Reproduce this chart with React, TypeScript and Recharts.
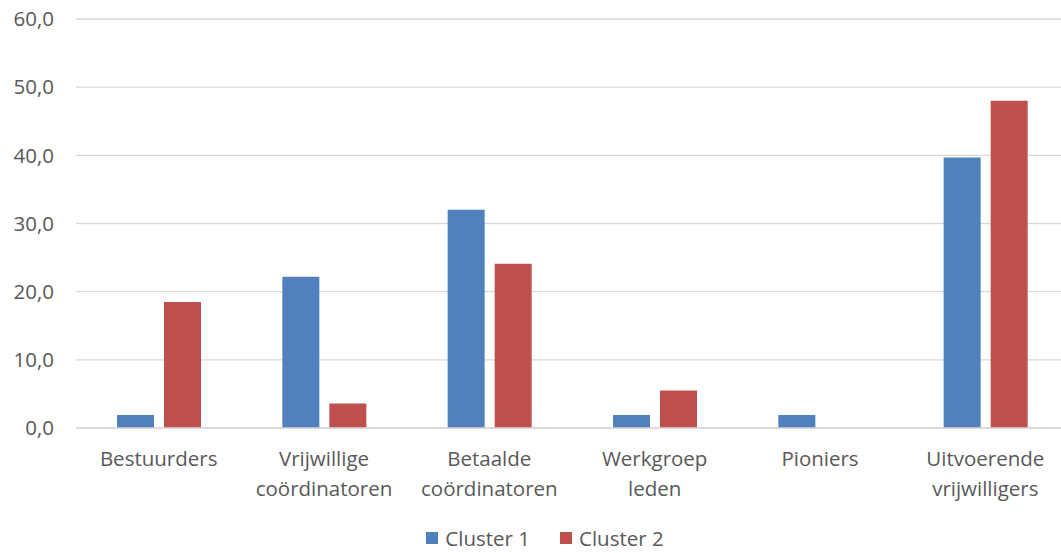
import React from "react";
import { BarChart, Bar, XAxis, YAxis, CartesianGrid, Legend } from "recharts";

// Groups shown on the horizontal axis
const categories = [
  "Bestuurders",
  "Vrijwillige coördinatoren",
  "Betaalde coördinatoren",
  "Werkgroep leden",
  "Pioniers",
  "Uitvoerende vrijwilligers",
];

// Tick labels, broken over lines as printed under each group
const tickLines: string[][] = [
  ["Bestuurders"],
  ["Vrijwillige", "coördinatoren"],
  ["Betaalde", "coördinatoren"],
  ["Werkgroep", "leden"],
  ["Pioniers"],
  ["Uitvoerende", "vrijwilligers"],
];

const cluster1 = [1.9, 22.2, 32.0, 1.9, 1.9, 39.7];
const cluster2 = [18.5, 3.6, 24.1, 5.5, 0, 48.0];

const seriesNames = ["Cluster 1", "Cluster 2"];
const yTicks = [0, 10, 20, 30, 40, 50, 60];

const COLORS = ["#4F81BD", "#C0504D"];
const TEXT = "#595959";
const GRID = "#d9d9d9";
const FONT = "'Open Sans', 'Liberation Sans', sans-serif";
const FS = 20.5;

const data = categories.map((c, i) => ({
  name: c,
  c1: cluster1[i],
  c2: cluster2[i],
}));

const fmt = (v: number) => v.toFixed(1).replace(".", ",");

const CategoryTick = (props: any) => {
  const { x, y, payload } = props;
  const lines = tickLines[payload.index] ?? [String(payload.value)];
  return (
    <text
      x={x}
      y={y}
      textAnchor="middle"
      fill={TEXT}
      fontSize={FS}
      fontFamily={FONT}
    >
      {lines.map((l, i) => (
        <tspan key={i} x={x} dy={i === 0 ? 15 : 30}>
          {l}
        </tspan>
      ))}
    </text>
  );
};

const LegendContent = () => (
  <div
    style={{
      display: "flex",
      justifyContent: "center",
      alignItems: "center",
      fontFamily: FONT,
      fontSize: FS,
      lineHeight: "22px",
      height: 22,
      color: TEXT,
      paddingTop: 5,
      paddingLeft: 20,
    }}
  >
    {seriesNames.map((n, i) => (
      <div
        key={n}
        style={{ display: "flex", alignItems: "center", marginRight: i === 0 ? 30 : 0 }}
      >
        <span
          style={{
            display: "inline-block",
            width: 12,
            height: 12,
            background: COLORS[i],
            marginRight: 7,
          }}
        />
        <span>{n}</span>
      </div>
    ))}
  </div>
);

export default function App() {
  return (
    <div
      style={{
        position: "absolute",
        left: 0,
        top: 0,
        width: 1061,
        height: 553,
        overflow: "hidden",
        background: "#fff",
      }}
    >
      <BarChart
        width={1070}
        height={553}
        data={data}
        margin={{ top: 19, right: 2, left: 0, bottom: 0 }}
        barSize={37}
        barGap={10}
      >
        <CartesianGrid vertical={false} stroke={GRID} strokeWidth={1.3} />
        <XAxis
          dataKey="name"
          interval={0}
          axisLine={{ stroke: GRID, strokeWidth: 1.3 }}
          tickLine={false}
          tickSize={0}
          tickMargin={23}
          height={94}
          tick={<CategoryTick />}
        />
        <YAxis
          domain={[0, 60]}
          ticks={yTicks}
          tickFormatter={fmt}
          width={76}
          axisLine={false}
          tickLine={false}
          tickSize={0}
          tickMargin={22}
          tick={{ fill: TEXT, fontSize: FS, fontFamily: FONT }}
        />
        <Legend
          verticalAlign="bottom"
          height={31}
          content={<LegendContent />}
          wrapperStyle={{ width: 1070, left: 0, bottom: 0 }}
        />
        <Bar dataKey="c1" name={seriesNames[0]} fill={COLORS[0]} isAnimationActive={false} />
        <Bar dataKey="c2" name={seriesNames[1]} fill={COLORS[1]} isAnimationActive={false} />
      </BarChart>
    </div>
  );
}
